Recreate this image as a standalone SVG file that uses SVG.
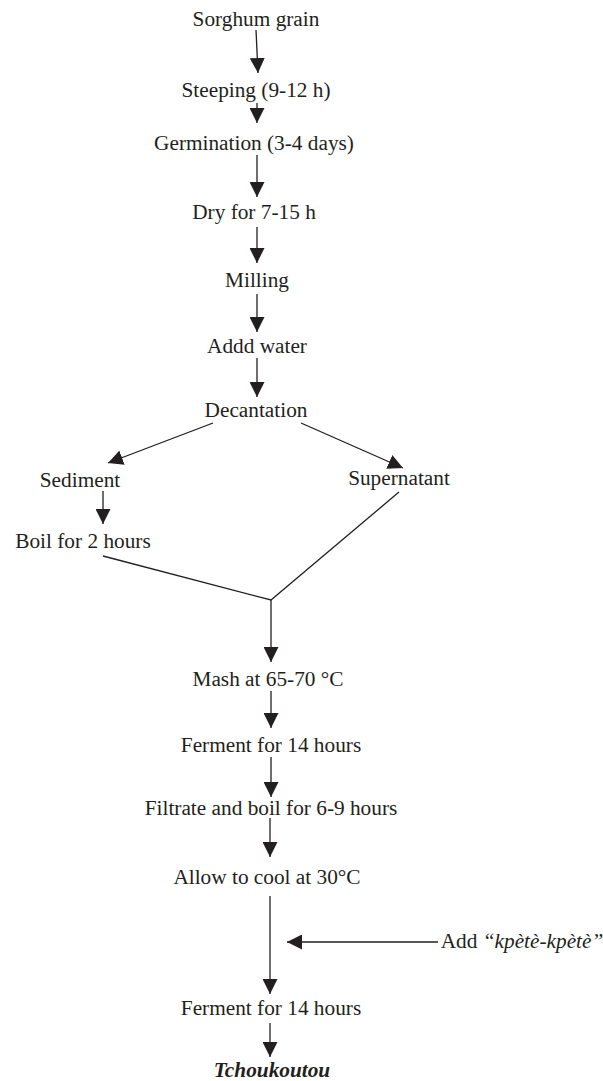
<svg xmlns="http://www.w3.org/2000/svg" width="603" height="1081" viewBox="0 0 603 1081">
  <style>
    .t { font-family: "Liberation Serif", "Times New Roman", serif; font-size: 21.3px; fill: #231f20; text-anchor: middle; }
    .it { font-style: italic; }
    .b { font-weight: bold; }
    .ln { stroke: #231f20; stroke-width: 1.3; fill: none; }
  </style>
  <defs>
    <marker id="ah" viewBox="0 0 15 15" refX="15" refY="7.5" markerWidth="15" markerHeight="15" markerUnits="userSpaceOnUse" orient="auto">
      <path d="M0,0 L15,7.5 L0,15 Z" fill="#231f20"/>
    </marker>
  </defs>
  <rect width="603" height="1081" fill="#ffffff"/>

  <g id="connectors">
    <line class="ln" x1="256" y1="30" x2="258" y2="73" marker-end="url(#ah)"/>
    <line class="ln" x1="257" y1="103" x2="257" y2="123" marker-end="url(#ah)"/>
    <line class="ln" x1="257" y1="155" x2="257" y2="197" marker-end="url(#ah)"/>
    <line class="ln" x1="257" y1="227" x2="257" y2="263" marker-end="url(#ah)"/>
    <line class="ln" x1="257" y1="294" x2="257" y2="332" marker-end="url(#ah)"/>
    <line class="ln" x1="257" y1="358" x2="257" y2="397" marker-end="url(#ah)"/>
    <line class="ln" x1="213" y1="423" x2="108" y2="463" marker-end="url(#ah)"/>
    <line class="ln" x1="301" y1="423" x2="403" y2="468" marker-end="url(#ah)"/>
    <line class="ln" x1="103" y1="491" x2="103" y2="524" marker-end="url(#ah)"/>
    <polyline class="ln" points="103,556 271,600 399,492"/>
    <line class="ln" x1="271" y1="600" x2="271" y2="662" marker-end="url(#ah)"/>
    <line class="ln" x1="271" y1="691" x2="271" y2="728" marker-end="url(#ah)"/>
    <line class="ln" x1="271" y1="757" x2="271" y2="797" marker-end="url(#ah)"/>
    <line class="ln" x1="270" y1="818" x2="270" y2="857" marker-end="url(#ah)"/>
    <line class="ln" x1="270" y1="896" x2="270" y2="994" marker-end="url(#ah)"/>
    <line class="ln" x1="438" y1="942" x2="287" y2="942" marker-end="url(#ah)"/>
    <line class="ln" x1="270" y1="1023" x2="270" y2="1057" marker-end="url(#ah)"/>
  </g>

  <g id="n-sorghum"><text class="t" x="256" y="26">Sorghum grain</text></g>
  <g id="n-steeping"><text class="t" x="256" y="97">Steeping (9-12 h)</text></g>
  <g id="n-germination"><text class="t" x="254" y="150">Germination (3-4 days)</text></g>
  <g id="n-dry"><text class="t" x="254" y="219">Dry for 7-15 h</text></g>
  <g id="n-milling"><text class="t" x="257" y="287">Milling</text></g>
  <g id="n-water"><text class="t" x="257" y="353">Addd water</text></g>
  <g id="n-decantation"><text class="t" x="256" y="417">Decantation</text></g>
  <g id="n-sediment"><text class="t" x="80" y="487">Sediment</text></g>
  <g id="n-supernatant"><text class="t" x="399" y="485">Supernatant</text></g>
  <g id="n-boil"><text class="t" x="83" y="548">Boil for 2 hours</text></g>
  <g id="n-mash"><text class="t" x="268" y="686">Mash at 65-70 °C</text></g>
  <g id="n-ferment1"><text class="t" x="271" y="752">Ferment for 14 hours</text></g>
  <g id="n-filtrate"><text class="t" x="271" y="815">Filtrate and boil for 6-9 hours</text></g>
  <g id="n-cool"><text class="t" x="267" y="884">Allow to cool at 30°C</text></g>
  <g id="n-add"><text class="t" x="522" y="948">Add <tspan class="it">“kpètè-kpètè”</tspan></text></g>
  <g id="n-ferment2"><text class="t" x="271" y="1015">Ferment for 14 hours</text></g>
  <g id="n-product"><text class="t it b" x="272" y="1077">Tchoukoutou</text></g>
</svg>
